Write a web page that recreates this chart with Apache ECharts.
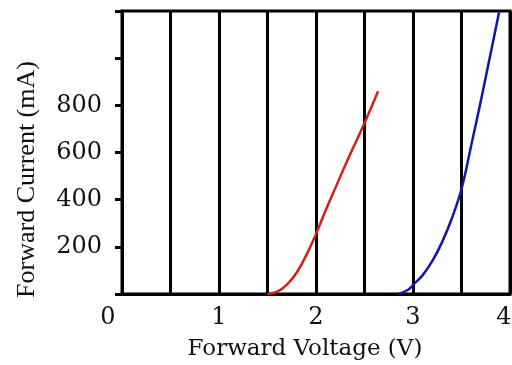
<!DOCTYPE html>
<html>
<head>
<meta charset="utf-8">
<script src="https://cdn.jsdelivr.net/npm/echarts@6/dist/echarts.min.js"></script>
<style>
html,body{margin:0;padding:0;background:#fff;}
#chart{width:512px;height:365px;}
</style>
</head>
<body>
<div id="chart"></div>
<script>
// Data
const redVoltage  = [1.50, 1.60, 1.70, 1.80, 1.90, 2.00, 2.10, 2.20, 2.30, 2.40, 2.50, 2.64];
const redCurrent  = [0,    10,   40,   90,   165,  255,  355,  450,  545,  635,  725,  860];
const blueVoltage = [2.85, 2.95, 3.00, 3.10, 3.20, 3.30, 3.40, 3.50, 3.60, 3.70, 3.80, 3.89];
const blueCurrent = [0,    18,   38,   80,   140,  220,  320,  445,  630,  820,  1020, 1200];
const xTickLabels = ['0', '1', '2', '3', '4'];
const yTickLabels = ['200', '400', '600', '800'];

const serif = 'DejaVu Serif';
const ink = '#111';
const chart = echarts.init(document.getElementById('chart'));
chart.setOption({
  animation: false,
  backgroundColor: '#fff',
  grid: {left: 122, right: 2, top: 11, bottom: 71, outerBoundsMode: 'none', containLabel: false,
         show: true, borderColor: '#000', borderWidth: 3, backgroundColor: '#fff'},
  xAxis: {
    type: 'value', min: 0, max: 4, interval: 0.5,
    name: 'Forward Voltage (V)', nameLocation: 'middle', nameGap: 44,
    nameTextStyle: {fontFamily: serif, fontSize: 23, color: ink, padding: [0, 22, 0, 0]},
    axisLine: {show: true, lineStyle: {color: '#000', width: 3}},
    axisTick: {show: false},
    splitLine: {show: true, lineStyle: {color: '#000', width: 3}},
    axisLabel: {
      margin: 12, fontFamily: serif, fontSize: 24, color: ink,
      formatter: function (v) {
        const s = String(v);
        if (xTickLabels.indexOf(s) < 0) return '';
        if (s === '0') return '{z|0}';
        if (s === '4') return '{e|4}';
        return s;
      },
      rich: {
        z: {fontFamily: serif, fontSize: 24, color: ink, padding: [0, 28, 0, 0]},
        e: {fontFamily: serif, fontSize: 24, color: ink, padding: [0, 12, 0, 0]}
      }
    }
  },
  yAxis: {
    type: 'value', min: 0, max: 1200, interval: 200,
    name: 'Forward Current (mA)', nameLocation: 'middle', nameGap: 82, nameRotate: 90,
    nameTextStyle: {fontFamily: 'Liberation Serif', fontSize: 26, color: ink, padding: [0, 54, 0, 0]},
    axisLine: {show: true, lineStyle: {color: '#000', width: 3}},
    axisTick: {show: true, inside: false, length: 7, lineStyle: {color: '#000', width: 3}},
    splitLine: {show: false},
    axisLabel: {
      margin: 20, fontFamily: serif, fontSize: 24, color: ink,
      formatter: function (v) { const s = String(v); return yTickLabels.indexOf(s) >= 0 ? s : ''; }
    }
  },
  series: [
    {type: 'line', smooth: 0.4, showSymbol: false, lineStyle: {color: '#d0201c', width: 2.5}, itemStyle: {color: '#d0201c'},
     data: redVoltage.map((v, i) => [v, redCurrent[i]])},
    {type: 'line', smooth: 0.4, showSymbol: false, lineStyle: {color: '#1515a8', width: 2.5}, itemStyle: {color: '#1515a8'},
     data: blueVoltage.map((v, i) => [v, blueCurrent[i]])}
  ]
});
</script>
</body>
</html>
